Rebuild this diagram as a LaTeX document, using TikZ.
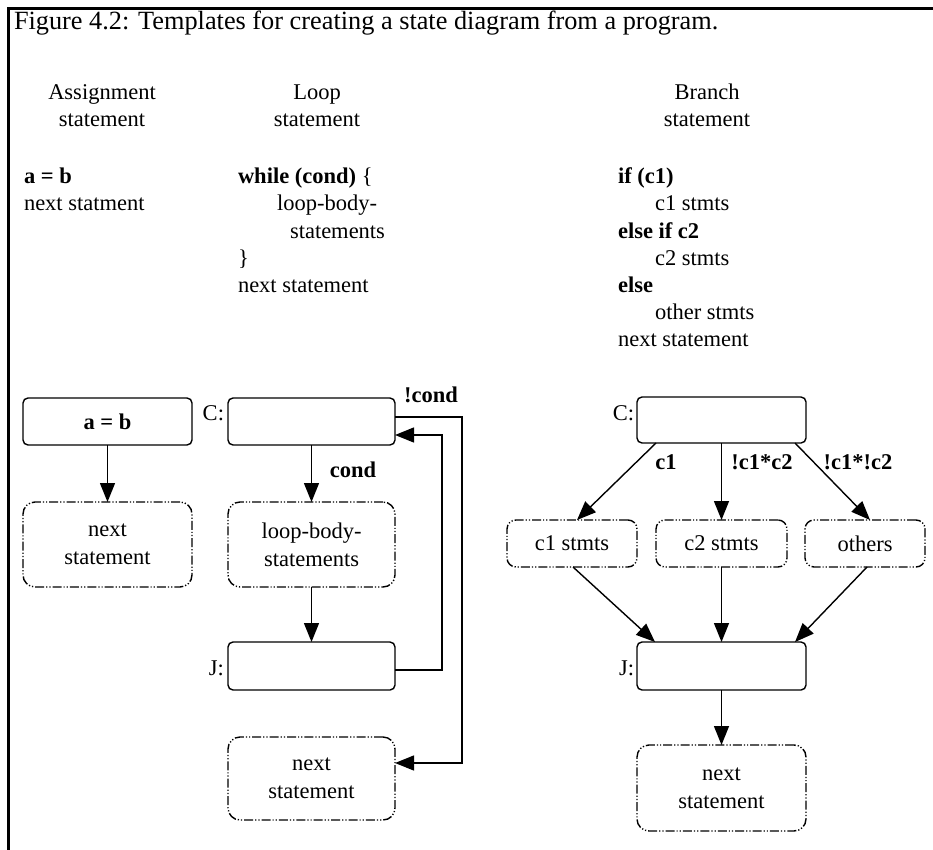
\documentclass[tikz,border=0pt]{standalone}
\usepackage{fontspec}
\setmainfont{Liberation Serif}
\usetikzlibrary{arrows.meta,calc}

\begin{document}
\begin{tikzpicture}[x=1pt,y=-1pt,
  font=\fontsize{22.5}{27}\selectfont,
  every node/.style={inner sep=0pt, outer sep=0pt},
  statebox/.style={draw, line width=1.4pt, rounded corners=5pt,
    minimum width=167pt, minimum height=47pt},
  blockbox/.style={draw, line width=1.4pt, rounded corners=12pt,
    dash pattern=on 9pt off 2pt on 1.2pt off 2pt on 1.2pt off 2pt,
    align=center, minimum width=167pt, minimum height=85pt,
    font=\fontsize{22.5}{28}\selectfont},
  conn/.style={line width=1.4pt, -{Triangle[length=19pt,width=15pt]}},
  txt/.style={anchor=base west},
  head/.style={anchor=base},
  lbl/.style={anchor=base east},
  guard/.style={anchor=base, font=\fontsize{22.5}{27}\selectfont\bfseries}
]
\useasboundingbox (0,0) rectangle (933,850);

% frame and caption
\draw[line width=3pt] (8.5,850) -- (8.5,8.5) -- (933,8.5);
\node[txt, font=\fontsize{26.3}{30}\selectfont] (title) at (14,30) {Figure 4.2: Templates for creating a state diagram from a program.};

% column headings
\node[head] (h1a) at (102,100) {Assignment};
\node[head] (h1b) at (102,127) {statement};
\node[head] (h2a) at (317,100) {Loop};
\node[head] (h2b) at (317,127) {statement};
\node[head] (h3a) at (707,100) {Branch};
\node[head] (h3b) at (707,127) {statement};

% assignment code
\node[txt] (a1) at (24,184) {\textbf{a = b}};
\node[txt] (a2) at (24,211) {next statment};

% loop code
\node[txt] (w1) at (238,184) {\textbf{while (cond)} \{};
\node[txt] (w2) at (277,211) {loop-body-};
\node[txt] (w3) at (290,238) {statements};
\node[txt] (w4) at (238,265) {\}};
\node[txt] (w5) at (238,292) {next statement};

% branch code
\node[txt] (b1) at (618,184) {\textbf{if (c1)}};
\node[txt] (b2) at (655,211) {c1 stmts};
\node[txt] (b3) at (618,238) {\textbf{else if c2}};
\node[txt] (b4) at (655,265) {c2 stmts};
\node[txt] (b5) at (618,292) {\textbf{else}};
\node[txt] (b6) at (655,319) {other stmts};
\node[txt] (b7) at (618,346) {next statement};

% assignment template
\node[statebox, minimum width=169pt] (A1) at (107.5,421.5) {\textbf{a = b}};
\node[blockbox, minimum width=169pt] (A2) at (107.5,544.5) {next\\statement};
\draw[conn] (A1) -- (A2);

% loop template
\node[statebox] (LC) at (311.5,421.5) {};
\node[blockbox] (LB) at (311.5,544.5) {loop-body-\\statements};
\node[statebox, minimum height=48pt] (LJ) at (311.5,666) {};
\node[blockbox, minimum height=83pt] (LN) at (311.5,778.5) {next\\statement};
\node[lbl] (LCl) at (224,420) {C:};
\node[lbl] (LJl) at (224,675) {J:};
\coordinate (exitx) at (462,600);
\coordinate (backx) at (442,600);

\draw[conn] (LC) -- (LB);
\node[guard] (gcond) at (353,477) {cond};
\draw[conn] (LB) -- (LJ);
\draw[conn] ($(LC.east)+(0,-4.5)$) -| (exitx) |- ($(LN.east)+(0,-15.5)$);
\node[guard] (gncond) at (431,402) {!cond};
\draw[conn] ($(LJ.east)+(0,4)$) -| (backx) |- ($(LC.east)+(0,13.5)$);

% branch template
\node[statebox, minimum height=46pt, minimum width=169pt] (BC) at (721.5,420) {};
\node[blockbox, minimum width=130pt, minimum height=47pt, rounded corners=9pt] (B1) at (572,543.5) {c1 stmts};
\node[blockbox, minimum width=131pt, minimum height=47pt, rounded corners=9pt] (B2) at (721.5,543.5) {c2 stmts};
\node[blockbox, minimum width=120pt, minimum height=47pt, rounded corners=9pt] (B3) at (865,543.5) {others};
\node[statebox, minimum height=48pt, minimum width=169pt] (BJ) at (721.5,666) {};
\node[blockbox, minimum width=169pt, minimum height=86pt] (BN) at (721.5,788) {next\\statement};
\node[lbl] (BCl) at (634,420) {C:};
\node[lbl] (BJl) at (634,675) {J:};

\draw[conn] ($(BC.south west)+(19,0)$) -- ($(B1.north)+(5,0)$);
\draw[conn] (BC) -- (B2);
\draw[conn] ($(BC.south east)+(-11,0)$) -- ($(B3.north)+(5,0)$);
\node[guard] (gc1) at (666,469) {c1};
\node[guard] (gc2) at (762,469) {!c1*c2};
\node[guard] (gc3) at (858,469) {!c1*!c2};

\draw[conn] ($(B1.south)+(1,0)$) -- ($(BJ.north west)+(18,0)$);
\draw[conn] (B2) -- (BJ);
\draw[conn] ($(B3.south)+(2,0)$) -- ($(BJ.north east)+(-11,0)$);
\draw[conn] (BJ) -- (BN);
\end{tikzpicture}
\end{document}
